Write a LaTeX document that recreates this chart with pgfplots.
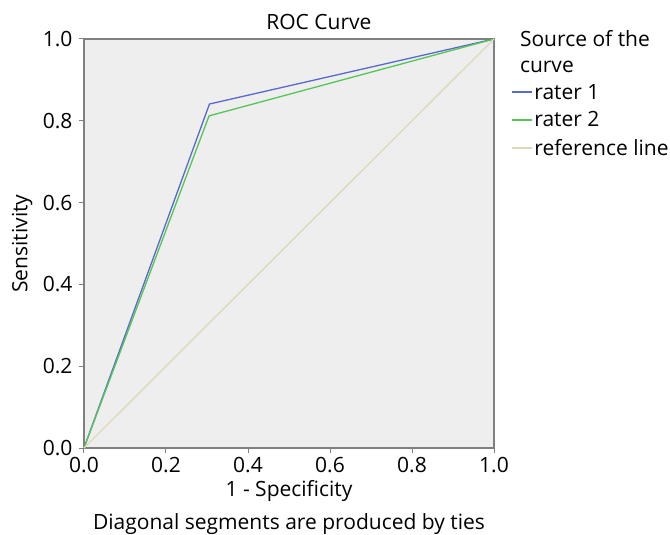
\documentclass[border=0pt]{standalone}
\usepackage{pgfplots}
\pgfplotsset{compat=1.18}
\usepackage{fontspec}
\setmainfont{Open Sans}
\definecolor{raterone}{RGB}{88,106,204}
\definecolor{ratertwo}{RGB}{86,196,86}
\definecolor{refline}{RGB}{220,217,180}
\definecolor{panel}{RGB}{238,238,238}
\definecolor{frame}{RGB}{128,128,128}
\begin{document}
\begin{tikzpicture}
\begin{axis}[
    name=ax,
    scale only axis,
    width=410bp, height=409bp,
    xmin=0, xmax=1, ymin=0, ymax=1,
    font=\fontsize{21bp}{25bp}\selectfont,
    axis background/.style={fill=panel},
    axis line style={frame, line width=1.3bp},
    tick align=outside,
    tick style={frame, line width=1bp},
    major tick length=5bp,
    xtick={0,0.2,0.4,0.6,0.8,1},
    ytick={0,0.2,0.4,0.6,0.8,1},
    xtick pos=bottom, ytick pos=left,
    /pgf/number format/assume math mode=true,
    /pgf/number format/.cd, fixed, fixed zerofill, precision=1, /pgfplots/.cd,
    xticklabel style={yshift=-1bp},
    yticklabel style={xshift=-3bp},
    xlabel={1 - Specificity},
    xlabel style={at={(axis description cs:0.5,-0.105)}, anchor=center},
    ylabel={Sensitivity},
    ylabel style={at={(axis description cs:-0.151,0.5)}, anchor=center, rotate=0},
    legend style={draw=none, fill=none, at={(rel axis cs:1.04,0.895)}, anchor=north west,
        font=\fontsize{21bp}{25bp}\selectfont, row sep=7bp, inner sep=0pt,
        nodes={inner xsep=2bp}},
    legend cell align=left,
    legend image code/.code={\draw[#1, line width=1.8bp] (0bp,0bp) -- (20bp,0bp);},
    clip=false,
]
\addplot[raterone, line width=1.3bp] coordinates {(0,0) (0.306,0.841) (1,1)};
\addlegendentry{rater 1}
\addplot[ratertwo, line width=1.3bp] coordinates {(0,0) (0.305,0.812) (1,1)};
\addlegendentry{rater 2}
\addplot[refline, line width=1.3bp] coordinates {(0,0) (1,1)};
\addlegendentry{reference line}
\node[anchor=center] at (rel axis cs:0.573,1.042) {ROC Curve};
\node[anchor=north west, align=left, inner sep=0pt] at (rel axis cs:1.063,1.022) {Source of the\\[1bp]curve};
\node[anchor=center] at (rel axis cs:0.5,-0.186) {Diagonal segments are produced by ties};
\end{axis}
\pgfresetboundingbox
\path ([shift={(-84bp,-87bp)}]ax.south west) rectangle ([shift={(176bp,39bp)}]ax.north east);
\end{tikzpicture}
\end{document}
